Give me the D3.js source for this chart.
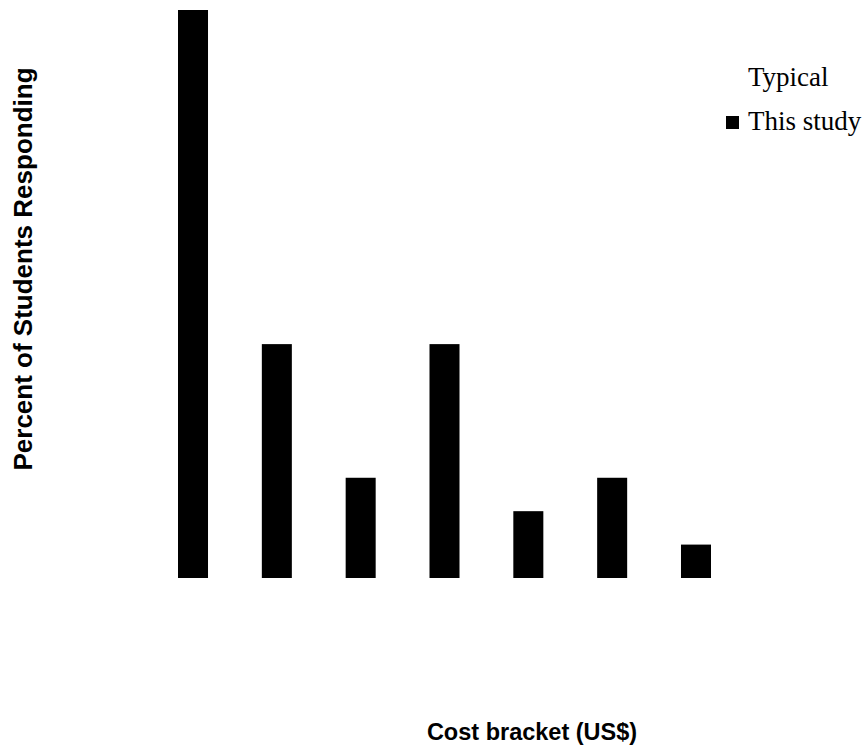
<!DOCTYPE html>
<html>
<head>
<meta charset="utf-8">
<script src="https://cdn.jsdelivr.net/npm/d3@7/dist/d3.min.js"></script>
<style>
html,body{margin:0;padding:0;background:#fff;}
svg{display:block;}
</style>
</head>
<body>
<script>
const categories = ["1","2","3","4","5","6","7"];
const thisStudy = [42.5, 17.5, 7.5, 17.5, 5, 7.5, 2.5];
const legendLabels = ["Typical", "This study"];
const legendColors = ["#ffffff", "#000000"];

const W = 866, H = 749;
const svg = d3.select("body").append("svg").attr("width", W).attr("height", H);

const x = d3.scaleBand().domain(categories).range([178, 711]).paddingInner(0.642).paddingOuter(0);
const y = d3.scaleLinear().domain([0, 42.5]).range([578, 10]);

svg.append("g").selectAll("rect").data(thisStudy).join("rect")
  .attr("x", (d, i) => x(categories[i]))
  .attr("width", x.bandwidth())
  .attr("y", d => y(d))
  .attr("height", d => y(0) - y(d))
  .attr("fill", "#000");

const leg = svg.append("g");
legendLabels.forEach((t, i) => {
  const by = 86 + i * 44;
  leg.append("rect").attr("x", 726).attr("y", by - 14).attr("width", 13).attr("height", 13).attr("fill", legendColors[i]);
  leg.append("text").attr("x", 748).attr("y", by)
    .attr("font-family", "Liberation Serif, Times New Roman, serif").attr("font-size", 27)
    .attr("fill", "#000").text(t);
});

svg.append("text").attr("transform", "translate(32,269) rotate(-90)")
  .attr("text-anchor", "middle").attr("font-family", "Liberation Sans, Arial, sans-serif")
  .attr("font-weight", "bold").attr("font-size", 26).text("Percent of Students Responding");

svg.append("text").attr("x", 532).attr("y", 740)
  .attr("text-anchor", "middle").attr("font-family", "Liberation Sans, Arial, sans-serif")
  .attr("font-weight", "bold").attr("font-size", 23.5).text("Cost bracket (US$)");
</script>
</body>
</html>
